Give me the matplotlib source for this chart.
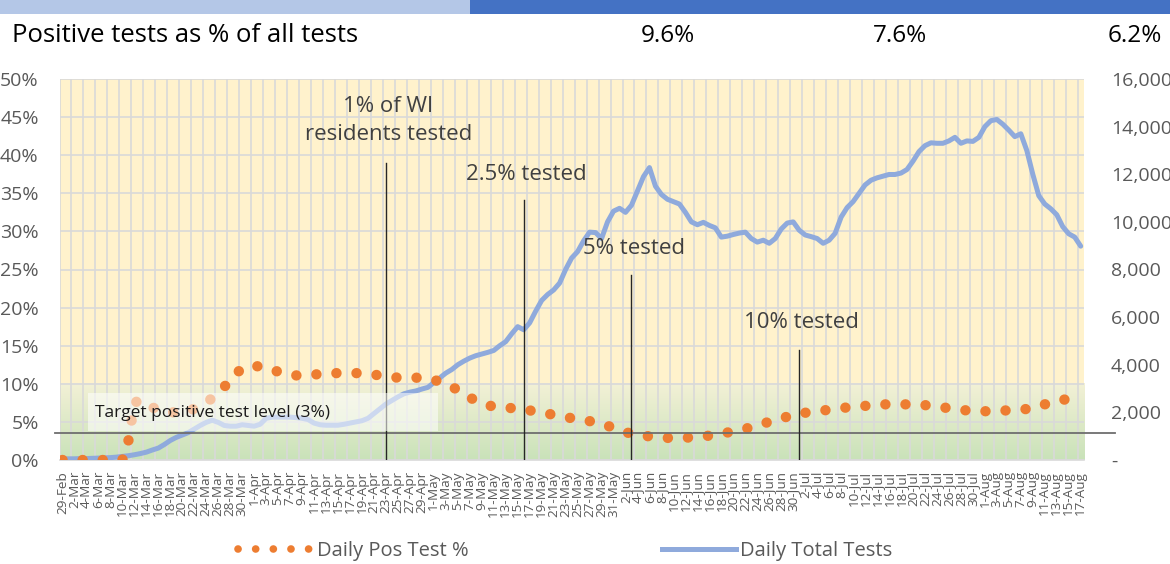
import numpy as np
import pandas as pd
import matplotlib
matplotlib.use('Agg')
import matplotlib.pyplot as plt
from matplotlib.patches import Rectangle
from matplotlib.lines import Line2D
from matplotlib.colors import LinearSegmentedColormap
from matplotlib.transforms import blended_transform_factory

plt.rcParams['font.family'] = ['Open Sans', 'DejaVu Sans']

# categories: one per day, 29-Feb .. 17-Aug
days = pd.date_range('2020-02-29', '2020-08-17', freq='D')
day_labels = [f'{d.day}-{d.strftime("%b")}' for d in days]

# daily positive test %
pos_pct = [
    0, 0, 0, 0, 0, 0, 0, 0, 0, 0,
    0, 2.5, 7.5, 7.9, 7.4, 6.9, 6.6, 6.4, 6.3, 6.2,
    6.3, 6.5, 6.7, 7.1, 7.6, 8.1, 8.8, 9.6, 10.4, 11.3,
    12.1, 12.2, 12.3, 12.3, 12.1, 11.8, 11.6, 11.4, 11.2, 11.1,
    11.1, 11.2, 11.2, 11.3, 11.3, 11.4, 11.4, 11.4, 11.4, 11.4,
    11.4, 11.3, 11.2, 11.1, 11.0, 10.9, 10.8, 10.8, 10.8, 10.8,
    10.8, 10.7, 10.5, 10.3, 10.0, 9.6, 9.2, 8.7, 8.2, 7.8,
    7.5, 7.2, 7.0, 6.9, 6.9, 6.8, 6.8, 6.7, 6.5, 6.4,
    6.2, 6.1, 5.9, 5.8, 5.6, 5.5, 5.4, 5.3, 5.1, 5.0,
    4.8, 4.5, 4.2, 3.9, 3.7, 3.4, 3.3, 3.2, 3.1, 3.0,
    2.9, 2.9, 2.9, 2.9, 2.9, 3.0, 3.1, 3.1, 3.2, 3.3,
    3.5, 3.6, 3.8, 3.9, 4.1, 4.3, 4.5, 4.8, 5.0, 5.2,
    5.4, 5.7, 5.9, 6.0, 6.2, 6.3, 6.4, 6.5, 6.6, 6.7,
    6.8, 6.9, 7.0, 7.0, 7.1, 7.2, 7.2, 7.3, 7.3, 7.3,
    7.3, 7.3, 7.3, 7.3, 7.2, 7.1, 7.0, 6.9, 6.8, 6.7,
    6.6, 6.5, 6.4, 6.4, 6.4, 6.4, 6.4, 6.5, 6.5, 6.6,
    6.6, 6.7, 6.8, 7.0, 7.3, 7.6, 7.8, 7.9, 8.0, 8.0,
    8.1,
]

# daily total tests (thousands)
total_k = [
    0.05, 0.05, 0.05, 0.06, 0.06, 0.07, 0.08, 0.09, 0.10, 0.12,
    0.15, 0.18, 0.22, 0.27, 0.33, 0.42, 0.50, 0.65, 0.82, 0.95,
    1.05, 1.15, 1.30, 1.45, 1.58, 1.67, 1.58, 1.45, 1.42, 1.42,
    1.48, 1.45, 1.42, 1.50, 1.75, 1.80, 1.80, 1.80, 1.80, 1.78,
    1.75, 1.70, 1.55, 1.48, 1.46, 1.46, 1.46, 1.50, 1.55, 1.60,
    1.65, 1.75, 1.95, 2.15, 2.35, 2.50, 2.65, 2.78, 2.85, 2.90,
    2.98, 3.05, 3.25, 3.45, 3.65, 3.80, 4.00, 4.15, 4.28, 4.38,
    4.45, 4.52, 4.60, 4.80, 4.97, 5.30, 5.60, 5.47, 5.76, 6.25,
    6.70, 6.95, 7.14, 7.43, 8.00, 8.48, 8.75, 9.20, 9.57, 9.55,
    9.30, 10.0, 10.45, 10.57, 10.40, 10.70, 11.30, 11.90, 12.28, 11.50,
    11.15, 10.95, 10.85, 10.75, 10.40, 10.00, 9.88, 9.98, 9.85, 9.75,
    9.36, 9.40, 9.47, 9.53, 9.57, 9.30, 9.15, 9.23, 9.10, 9.30,
    9.70, 9.95, 10.00, 9.65, 9.45, 9.38, 9.30, 9.10, 9.23, 9.52,
    10.20, 10.60, 10.85, 11.20, 11.55, 11.75, 11.85, 11.92, 11.99, 11.99,
    12.05, 12.20, 12.55, 12.95, 13.20, 13.32, 13.30, 13.30, 13.40, 13.55,
    13.30, 13.40, 13.38, 13.55, 14.00, 14.25, 14.30, 14.10, 13.85, 13.58,
    13.70, 13.00, 12.00, 11.10, 10.75, 10.55, 10.30, 9.80, 9.50, 9.36,
    8.98,
]
total_tests = [v * 1000 for v in total_k]

milestone_days = ['23-Apr', '16-May', '3-Jun', '1-Jul']
milestone_text = ['1% of WI\nresidents tested', '2.5% tested', '5% tested', '10% tested']
header_pct = ['9.6%', '7.6%', '6.2%']
target_label = 'Target positive test level (3%)'

W, H = 1170, 564
fig = plt.figure(figsize=(W / 100, H / 100), dpi=100)
fig.patch.set_facecolor('white')

# header bars
fig.add_artist(Rectangle((0, 1 - 14 / H), 470 / W, 14 / H, transform=fig.transFigure,
                         facecolor='#B4C7E7', edgecolor='none'))
fig.add_artist(Rectangle((470 / W, 1 - 14 / H), 1 - 470 / W, 14 / H, transform=fig.transFigure,
                         facecolor='#4472C4', edgecolor='none'))
fig.text(12 / W, 1 - 36 / H, 'Positive tests as % of all tests', fontsize=18.5, va='center', ha='left')
for xpix, s in zip([668, 900, 1135], header_pct):
    fig.text(xpix / W, 1 - 36 / H, s, fontsize=17.5, va='center', ha='center')

ax = fig.add_axes([59.5 / W, 104 / H, (1083.7 - 59.5) / W, 381 / H])
x = np.arange(len(days))
n = len(days)

ax.set_facecolor('#FFF2CC')
grad = np.linspace(1, 0, 256).reshape(-1, 1)
cmap = LinearSegmentedColormap.from_list('g', ['#C9E2B9', '#F3F1D6'])
ax.imshow(grad, extent=(-0.5, n - 0.5, 0, 10), aspect='auto', cmap=cmap, origin='upper', zorder=0.2)

ax.set_axisbelow(True)
ax.set_xlim(-0.5, n - 0.5)
ax.set_ylim(0, 50)
ax.set_yticks(range(0, 51, 5))
ax.set_yticklabels([f'{v}%' for v in range(0, 51, 5)])
ax.set_xticks(x[::2])
ax.set_xticklabels(day_labels[::2], rotation=90)
ax.set_xticks(np.arange(-0.5, n - 1, 2), minor=True)
ax.grid(axis='y', which='major', color='#D9D9D9', lw=1.2)
ax.grid(axis='x', which='minor', color='#D9D9D9', lw=1.2)
ax.grid(axis='x', which='major', visible=False)
ax.tick_params(axis='y', length=0, pad=15, labelsize=14, labelcolor='#595959')
ax.tick_params(axis='x', which='both', length=0, pad=8, labelsize=9.7, labelcolor='#595959')
for s in ['top', 'left', 'right']:
    ax.spines[s].set_visible(False)
ax.spines['bottom'].set_color('#D9D9D9')
ax.spines['bottom'].set_linewidth(1.2)

ax2 = ax.twinx()
ax2.set_ylim(0, 16000)
ax2.set_yticks(range(0, 16001, 2000))
ax2.set_yticklabels(['-'] + [f'{v:,}' for v in range(2000, 16001, 2000)])
ax2.tick_params(axis='y', length=0, pad=19.5, labelsize=14, labelcolor='#595959')
for s in ax2.spines.values():
    s.set_visible(False)
ax2.plot(x, total_tests, color='#8FAADC', lw=3.6, solid_joinstyle='round',
         solid_capstyle='round', zorder=2)
# positive % line (dotted) drawn on top of the tests line, in the left axis scale
ax2.plot(x, pos_pct, transform=ax.transData, color='#ED7D31', lw=7.5,
         linestyle=(0, (0.01, 1.92)), dash_capstyle='round', zorder=3)

# target line and label box
blend = blended_transform_factory(ax.transAxes, ax.transData)
ax2.plot([-0.0044, 1.0306], [3.6, 3.6], transform=blend, color='#6E6E6E', lw=1.3,
         clip_on=False, zorder=4)
ax2.add_patch(Rectangle((4.3, 3.8), 58.4, 5.0, transform=ax.transData, facecolor='white',
                        alpha=0.55, edgecolor='none', zorder=5))
ax2.text(5.4, 6.2, target_label, transform=ax.transData, fontsize=12.5, color='#1a1a1a',
         va='center', ha='left', zorder=6)

# milestone lines
tops = [39, 34.1, 24.3, 14.4]
label_y = [44.6, 37.5, 27.7, 18.0]
for d, txt, top, ly in zip(milestone_days, milestone_text, tops, label_y):
    i = day_labels.index(d)
    ax2.plot([i, i], [0, top], transform=ax.transData, color='#262626', lw=1, zorder=4)
    ax2.text(i + 0.4, ly, txt, transform=ax.transData, fontsize=16, color='#404040',
             ha='center', va='center', linespacing=1.45, zorder=6)

# legend
h1 = Line2D([], [], color='#ED7D31', lw=5.5, linestyle=(0, (0.01, 2.3)), dash_capstyle='round')
h2 = Line2D([], [], color='#8FAADC', lw=3.6)
fig.legend([h1, h2], ['Daily Pos Test %', 'Daily Total Tests'], loc='center left',
           bbox_to_anchor=(238 / W, 1 - 551 / H), ncol=2, frameon=False, fontsize=14.5,
           handlelength=3.7, handletextpad=0.2, columnspacing=9.6, borderpad=0,
           borderaxespad=0, labelcolor='#595959')

fig.savefig('out.png', dpi=100)
